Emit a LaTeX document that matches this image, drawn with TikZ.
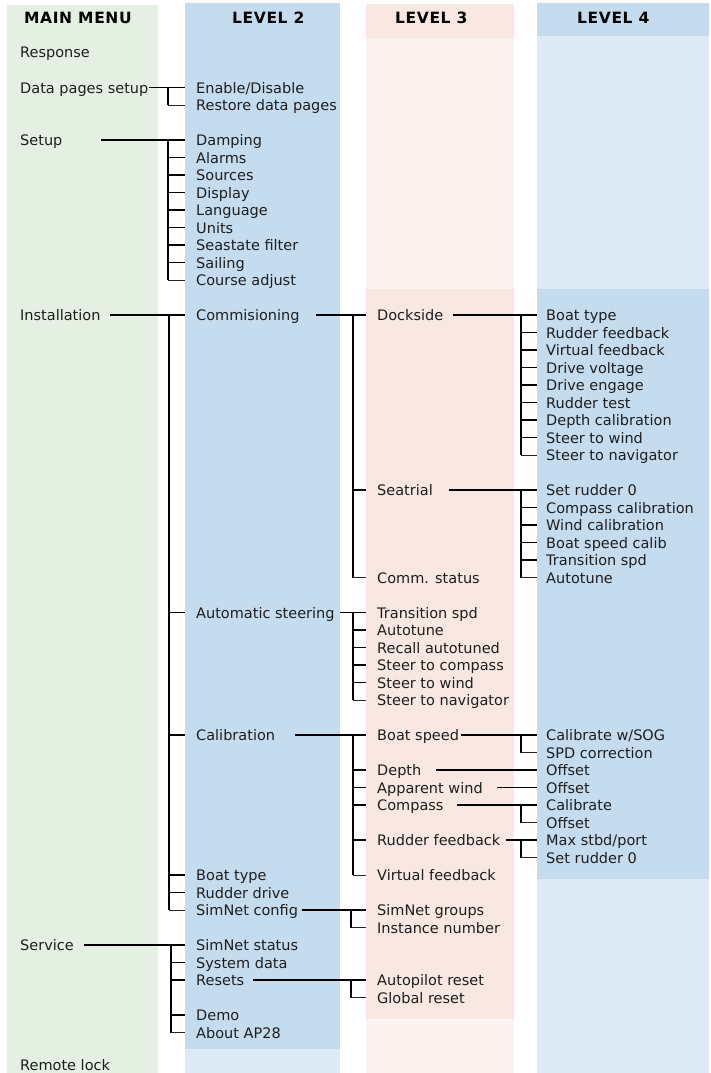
\documentclass[tikz,border=0pt]{standalone}
\usepackage{fontspec}
\setmainfont{DejaVu Sans}
\newfontfamily\hdrfont[LetterSpace=4]{DejaVu Sans}
\definecolor{mainc}{RGB}{228,240,225}
\definecolor{bluedark}{RGB}{197,220,239}
\definecolor{bluelight}{RGB}{222,234,246}
\definecolor{peachdark}{RGB}{248,232,225}
\definecolor{peachlight}{RGB}{252,242,239}
\definecolor{txt}{RGB}{30,30,30}
\tikzset{
  item/.style={anchor=west, inner sep=0pt, text height=11pt, text depth=0pt, text=txt,
    font=\fontsize{14.5}{17}\selectfont},
  hdr/.style={anchor=west, inner sep=0pt, text height=11.5pt, text depth=0pt, text=black,
    font=\fontsize{15.5}{18}\selectfont\hdrfont\bfseries},
  conn/.style={line width=1.7pt, draw=black},
  vert/.style={line width=1.4pt, draw=black},
  lastt/.style={line width=1pt, draw=black!85},
}
\def\vx{27pt}
\def\gx{11pt}
\newcommand\brMain[3]{\draw[conn] ([xshift=#2]#1.west) -- ([xshift=-\gx]#3.west);}
\newcommand\brVert[2]{\draw[vert] ([xshift=-\vx]#1.west) -- ([xshift=-\vx]#2.west);}
\newcommand\brTick[1]{\draw[conn] ([xshift=-\vx]#1.west) -- ([xshift=-\gx]#1.west);}
\newcommand\brEnd[1]{\draw[lastt] ([xshift=-\vx]#1.west) -- ([xshift=-\gx]#1.west);}
\begin{document}
\begin{tikzpicture}[x=1pt,y=-1pt]
\useasboundingbox (0,0) rectangle (711,1073);
% columns
\fill[mainc] (7,5) rectangle (158,1073);
\fill[bluedark] (185,3) rectangle (340,1049);
\fill[bluelight] (185,1049) rectangle (340,1073);
\fill[peachdark] (366,4) rectangle (514,38);
\fill[peachlight] (366,38) rectangle (514,289);
\fill[peachdark] (366,289) rectangle (514,1019);
\fill[peachlight] (366,1019) rectangle (514,1073);
\fill[bluedark] (537,3) rectangle (709,36);
\fill[bluelight] (537,36) rectangle (709,289);
\fill[bluedark] (537,289) rectangle (709,879);
\fill[bluelight] (537,879) rectangle (709,1073);
% headers
\node[hdr] (h1) at (24,17.5) {MAIN MENU};
\node[hdr] (h2) at (232,17.5) {LEVEL 2};
\node[hdr] (h3) at (395,17.5) {LEVEL 3};
\node[hdr] (h4) at (577,17.5) {LEVEL 4};
% main menu
\node[item] (response) at (20,52.5) {Response};
\node[item] (datapages) at (20,87.5) {Data pages setup};
\node[item] (setup) at (20,140) {Setup};
\node[item] (install) at (20,315) {Installation};
\node[item] (service) at (20,945) {Service};
\node[item] (remote) at (20,1065) {Remote lock};
% level 2
\node[item] (enable) at (196,87.5) {Enable/Disable};
\node[item] (restore) at (196,105) {Restore data pages};
\node[item] (damping) at (196,140) {Damping};
\node[item] (alarms) at (196,157.5) {Alarms};
\node[item] (sources) at (196,175) {Sources};
\node[item] (display) at (196,192.5) {Display};
\node[item] (language) at (196,210) {Language};
\node[item] (units) at (196,227.5) {Units};
\node[item] (seastate) at (196,245) {Seastate filter};
\node[item] (sailing) at (196,262.5) {Sailing};
\node[item] (course) at (196,280) {Course adjust};
\node[item] (commis) at (196,315) {Commisioning};
\node[item] (autost) at (196,612.5) {Automatic steering};
\node[item] (calib) at (196,735) {Calibration};
\node[item] (boattype) at (196,875) {Boat type};
\node[item] (rudderdrive) at (196,892.5) {Rudder drive};
\node[item] (simcfg) at (196,910) {SimNet config};
\node[item] (simstat) at (196,945) {SimNet status};
\node[item] (sysdata) at (196,962.5) {System data};
\node[item] (resets) at (196,980) {Resets};
\node[item] (demo) at (196,1015) {Demo};
\node[item] (about) at (196,1032.5) {About AP28};
% level 3
\node[item] (dockside) at (377,315) {Dockside};
\node[item] (seatrial) at (377,490) {Seatrial};
\node[item] (commstat) at (377,577.5) {Comm. status};
\node[item] (ts) at (377,612.5) {Transition spd};
\node[item] (at) at (377,630) {Autotune};
\node[item] (recall) at (377,647.5) {Recall autotuned};
\node[item] (stcomp) at (377,665) {Steer to compass};
\node[item] (stwind) at (377,682.5) {Steer to wind};
\node[item] (stnav) at (377,700) {Steer to navigator};
\node[item] (bspeed) at (377,735) {Boat speed};
\node[item] (depth) at (377,770) {Depth};
\node[item] (appwind) at (377,787.5) {Apparent wind};
\node[item] (compass) at (377,805) {Compass};
\node[item] (rudfb) at (377,840) {Rudder feedback};
\node[item] (virtfb) at (377,875) {Virtual feedback};
\node[item] (simgroups) at (377,910) {SimNet groups};
\node[item] (instance) at (377,927.5) {Instance number};
\node[item] (apreset) at (377,980) {Autopilot reset};
\node[item] (globreset) at (377,997.5) {Global reset};
% level 4
\node[item] (d1) at (546,315) {Boat type};
\node[item] (d2) at (546,332.5) {Rudder feedback};
\node[item] (d3) at (546,350) {Virtual feedback};
\node[item] (d4) at (546,367.5) {Drive voltage};
\node[item] (d5) at (546,385) {Drive engage};
\node[item] (d6) at (546,402.5) {Rudder test};
\node[item] (d7) at (546,420) {Depth calibration};
\node[item] (d8) at (546,437.5) {Steer to wind};
\node[item] (d9) at (546,455) {Steer to navigator};
\node[item] (s1) at (546,490) {Set rudder 0};
\node[item] (s2) at (546,507.5) {Compass calibration};
\node[item] (s3) at (546,525) {Wind calibration};
\node[item] (s4) at (546,542.5) {Boat speed calib};
\node[item] (s5) at (546,560) {Transition spd};
\node[item] (s6) at (546,577.5) {Autotune};
\node[item] (calsog) at (546,735) {Calibrate w/SOG};
\node[item] (spdcorr) at (546,752.5) {SPD correction};
\node[item] (depoff) at (546,770) {Offset};
\node[item] (windoff) at (546,787.5) {Offset};
\node[item] (compcal) at (546,805) {Calibrate};
\node[item] (compoff) at (546,822.5) {Offset};
\node[item] (maxstbd) at (546,840) {Max stbd/port};
\node[item] (setrud) at (546,857.5) {Set rudder 0};
% ---- connectors main -> level 2
\def\vx{28pt}\def\gx{11pt}
\brMain{datapages}{129pt}{enable}
\brVert{enable}{restore}
\brEnd{restore}
\brMain{setup}{81pt}{damping}
\brVert{damping}{course}
\foreach \c in {alarms,sources,display,language,units,seastate,sailing} {\brTick{\c}}
\brEnd{course}
\def\vx{27pt}
\brMain{install}{90pt}{commis}
\brVert{commis}{simcfg}
\foreach \c in {autost,calib,boattype,rudderdrive} {\brTick{\c}}
\brEnd{simcfg}
\def\vx{25pt}
\brMain{service}{64pt}{simstat}
\brVert{simstat}{about}
\foreach \c in {sysdata,resets,demo} {\brTick{\c}}
\brEnd{about}
% ---- level 2 -> level 3
\def\vx{24pt}\def\gx{11pt}
\brMain{commis}{120pt}{dockside}
\brVert{dockside}{commstat}
\brTick{seatrial}
\brEnd{commstat}
\brMain{autost}{144pt}{ts}
\brVert{ts}{stnav}
\foreach \c in {at,recall,stcomp,stwind} {\brTick{\c}}
\brEnd{stnav}
\brMain{calib}{99pt}{bspeed}
\brVert{bspeed}{virtfb}
\foreach \c in {depth,appwind,compass,rudfb} {\brTick{\c}}
\brEnd{virtfb}
\def\vx{26pt}
\brMain{simcfg}{106pt}{simgroups}
\brVert{simgroups}{instance}
\brEnd{instance}
\brMain{resets}{57pt}{apreset}
\brVert{apreset}{globreset}
\brEnd{globreset}
% ---- level 3 -> level 4
\def\vx{25pt}\def\gx{9pt}
\brMain{dockside}{76pt}{d1}
\brVert{d1}{d9}
\foreach \c in {d2,d3,d4,d5,d6,d7,d8} {\brTick{\c}}
\brEnd{d9}
\brMain{seatrial}{72pt}{s1}
\brVert{s1}{s6}
\foreach \c in {s2,s3,s4,s5} {\brTick{\c}}
\brEnd{s6}
\brMain{bspeed}{84pt}{calsog}
\brVert{calsog}{spdcorr}
\brEnd{spdcorr}
\brMain{depth}{59pt}{depoff}
\brMain{appwind}{120pt}{windoff}
\brMain{compass}{80pt}{compcal}
\brVert{compcal}{compoff}
\brEnd{compoff}
\brMain{rudfb}{129pt}{maxstbd}
\brVert{maxstbd}{setrud}
\brEnd{setrud}
\end{tikzpicture}
\end{document}
